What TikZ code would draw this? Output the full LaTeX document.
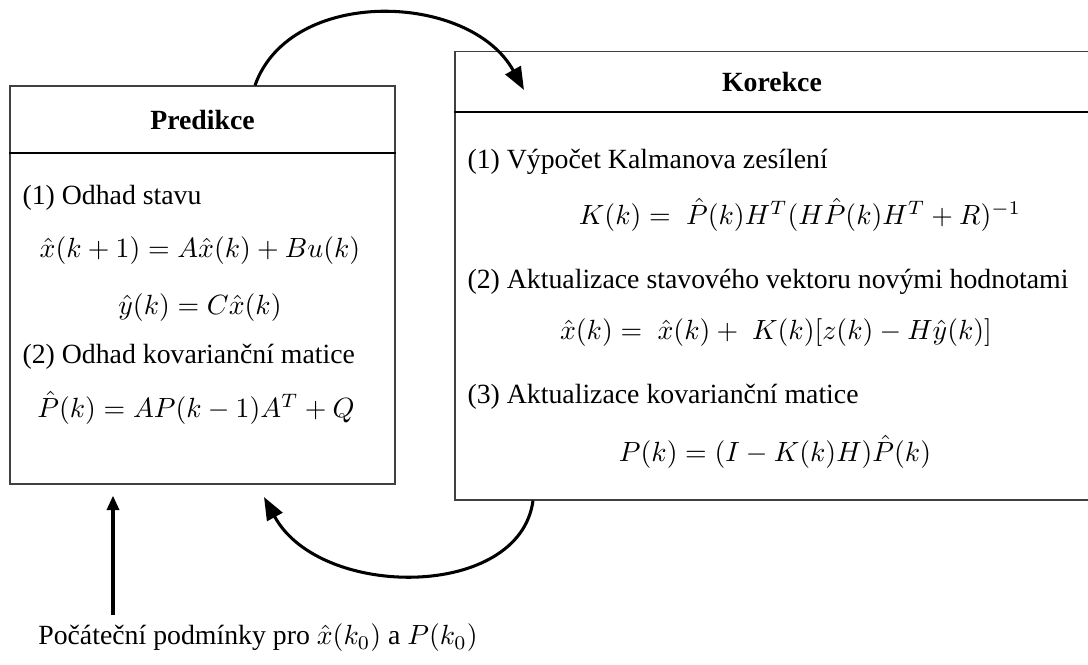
\documentclass[tikz,border=0pt]{standalone}
\usepackage{fontspec}
\setmainfont{Liberation Serif}
\usetikzlibrary{arrows.meta}

\begin{document}
\begin{tikzpicture}[x=0.36pt,y=-0.36pt,font=\fontsize{10}{12}\selectfont,
  box/.style={draw=black!75,line width=0.4pt,inner sep=0pt},
  headline/.style={line width=0.9pt},
  item/.style={anchor=west,inner sep=0pt},
  eq/.style={inner sep=0pt},
  flow/.style={line width=1.1pt,-{Triangle[length=8.2pt,width=6.2pt]}},
  start/.style={line width=1.1pt,-{Triangle[length=5.2pt,width=4.4pt]}}]
  \useasboundingbox (0,0) rectangle (1088,664);
  % predikce
  \node[box,minimum width=138.6pt,minimum height=143.3pt] (pred) at (202.5,285) {};
  \draw[headline] (pred.west |- 0,153) -- (pred.east |- 0,153);
  \node (predtitle) at (202.5,120) {\bfseries Predikce};
  \node[item] (p1) at (22,198) {(1) Odhad stavu};
  \node[eq] (pe1) at (200,251) {$\hat{x}(k+1) = A\hat{x}(k) + Bu(k)$};
  \node[eq] (pe2) at (200,308) {$\hat{y}(k) = C\hat{x}(k)$};
  \node[item] (p2) at (22,357) {(2) Odhad kovarianční matice};
  \node[eq] (pe3) at (196,408) {$\hat{P}(k) = AP(k-1)A^T + Q$};
  % korekce
  \node[box,minimum width=228.6pt,minimum height=161.6pt] (kor) at (772.5,275.5) {};
  \draw[headline] (kor.west |- 0,112) -- (kor.east |- 0,112);
  \node (kortitle) at (772,82) {\bfseries Korekce};
  \node[item] (k1) at (467,162) {(1) Výpočet Kalmanova zesílení};
  \node[eq] (ke1) at (800,215) {$K(k) = \;\hat{P}(k)H^T(H\hat{P}(k)H^T + R)^{-1}$};
  \node[item] (k2) at (467,282) {(2) Aktualizace stavového vektoru novými hodnotami};
  \node[eq] (ke2) at (776,333) {$\hat{x}(k) = \;\hat{x}(k) + \;K(k)[z(k) - H\hat{y}(k)]$};
  \node[item] (k3) at (467,397) {(3) Aktualizace kovarianční matice};
  \node[eq] (ke3) at (775,452) {$P(k) = (I - K(k)H)\hat{P}(k)$};
  % pocatecni podminky
  \node[inner sep=0pt] (init) at (258,638) {Počáteční podmínky pro $\hat{x}(k_0)$ a $P(k_0)$};
  \coordinate (kortip) at (524,90);
  \coordinate (predtip) at (264,497);
  \draw[flow] (255,0 |- pred.north) .. controls (290,-14) and (470,-8) .. (kortip);
  \draw[flow] (533,0 |- kor.south) .. controls (520,600) and (320,600) .. (predtip);
  \draw[start,shorten <=3pt,shorten >=4pt] (113,0 |- init.north) -- (113,0 |- pred.south);
\end{tikzpicture}
\end{document}
